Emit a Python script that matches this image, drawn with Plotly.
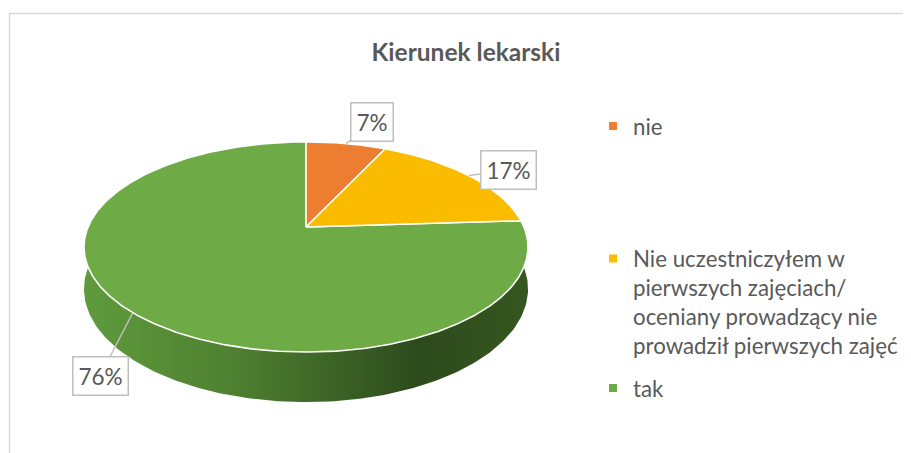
import numpy as np
import plotly.graph_objects as go

# ---- data ----
categories = [
    "nie",
    "Nie uczestniczyłem w pierwszych zajęciach/ oceniany prowadzący nie prowadził pierwszych zajęć",
    "tak",
]
legend_labels = [
    "nie",
    "Nie uczestniczyłem w<br>pierwszych zajęciach/<br>oceniany prowadzący nie<br>prowadził pierwszych zajęć",
    "tak",
]
values = [7, 17, 76]
colors = ["#ED7D31", "#FBBC00", "#6EAB47"]
title_text = "Kierunek lekarski"

# ---- geometry of the tilted pie (layout, in screen-pixel axis units) ----
W, H = 911, 453
OFF = 8           # page body margin of the html page
CX, CY = 306, 227
RX, RY = 218, 101.3
K = 0.19          # perspective strength
DEPTH = 40.5      # thickness of the pie
FONT = "Lato"
GREY = "#595959"


def px_x(x):
    return (x - OFF) / W


def px_y(y):
    return 1 - (y - OFF) / H


def proj(theta_deg, drop=0.0):
    t = np.radians(theta_deg)
    u = np.sin(t)
    v = -np.cos(t)
    s = 1.0 / (1.0 - K * v)
    return CX + RX * u * s, CY + (RY * v + drop) * s


total = float(sum(values))
bounds = np.concatenate([[0.0], np.cumsum(values) / total * 360.0])

fig = go.Figure()

# side wall (front half of the cylinder)
th = np.linspace(90, 270, 181)
xt, yt = proj(th)
xb, yb = proj(th[::-1], DEPTH)
fig.add_trace(go.Scatter(
    x=np.concatenate([xt, xb, xt[:1]]), y=np.concatenate([yt, yb, yt[:1]]),
    mode="lines", fill="toself", line=dict(width=0, color="rgba(0,0,0,0)"),
    fillgradient=dict(type="horizontal", colorscale=[
        [0.0, "#5f9b3d"], [0.35, "#4d7f30"], [0.75, "#2d4a1c"], [1.0, "#36571f"]]),
    showlegend=False, hoverinfo="skip"))

# top faces of the slices
order = [2, 0, 1]
for i in order:
    a0, a1 = bounds[i], bounds[i + 1]
    th = np.linspace(a0, a1, max(int((a1 - a0) * 2), 8))
    xs, ys = proj(th)
    fig.add_trace(go.Scatter(
        x=np.concatenate([[CX], xs, [CX]]), y=np.concatenate([[CY], ys, [CY]]),
        mode="lines", fill="toself", fillcolor=colors[i],
        line=dict(color="white", width=1.6),
        name=categories[i], showlegend=False,
        hovertemplate=f"{categories[i]}: {values[i]}%<extra></extra>"))

# legend entries (each in its own legend, positioned like the original)
legend_ids = ["legend", "legend2", "legend3"]
for i in range(3):
    fig.add_trace(go.Scatter(
        x=[None], y=[None], mode="markers",
        marker=dict(symbol="square", size=8, color=colors[i]),
        name=legend_labels[i], legend=legend_ids[i], showlegend=True))

# data labels with callouts
label_pos = [(372, 122), (508, 170), (100, 376)]
annotations = []
for i in range(3):
    mid = (bounds[i] + bounds[i + 1]) / 2
    px, py = proj(mid)
    lx, ly = label_pos[i]
    pct = round(values[i] / total * 100)
    annotations.append(dict(
        x=px, y=py, xref="x", yref="y", ax=lx, ay=ly, axref="x", ayref="y",
        text=f"{pct}%", showarrow=True, arrowhead=0, arrowwidth=1.5,
        arrowcolor="#bfbfbf", bordercolor="#bfbfbf", borderwidth=1.5,
        borderpad=5, bgcolor="white",
        font=dict(family=FONT, size=22.5, color=GREY)))

leg_font = dict(family=FONT, size=22.3, color=GREY)
leg_common = dict(xanchor="left", yanchor="middle", font=leg_font, bgcolor="rgba(0,0,0,0)",
                  itemwidth=30, valign="top", itemclick=False, itemdoubleclick=False)
leg_x = px_x(593)

fig.update_layout(
    width=W, height=H,
    margin=dict(l=0, r=0, t=0, b=0),
    paper_bgcolor="white", plot_bgcolor="white",
    xaxis=dict(range=[OFF, W + OFF], visible=False, fixedrange=True),
    yaxis=dict(range=[H + OFF, OFF], visible=False, fixedrange=True),
    title=dict(text=f"<b>{title_text}</b>", x=px_x(466), xanchor="center",
               y=px_y(52), yanchor="middle",
               font=dict(family=FONT, size=24.5, color=GREY)),
    legend=dict(x=leg_x, y=px_y(126), **leg_common),
    legend2=dict(x=leg_x, y=px_y(302), **leg_common),
    legend3=dict(x=leg_x, y=px_y(388), **leg_common),
    annotations=annotations,
    shapes=[dict(type="path", xref="x", yref="y",
                 path=f"M 9.5 {H + OFF} L 9.5 13.5 L {W + OFF} 13.5",
                 line=dict(color="#d9d9d9", width=1.5))],
)

fig.write_html("out.html")
